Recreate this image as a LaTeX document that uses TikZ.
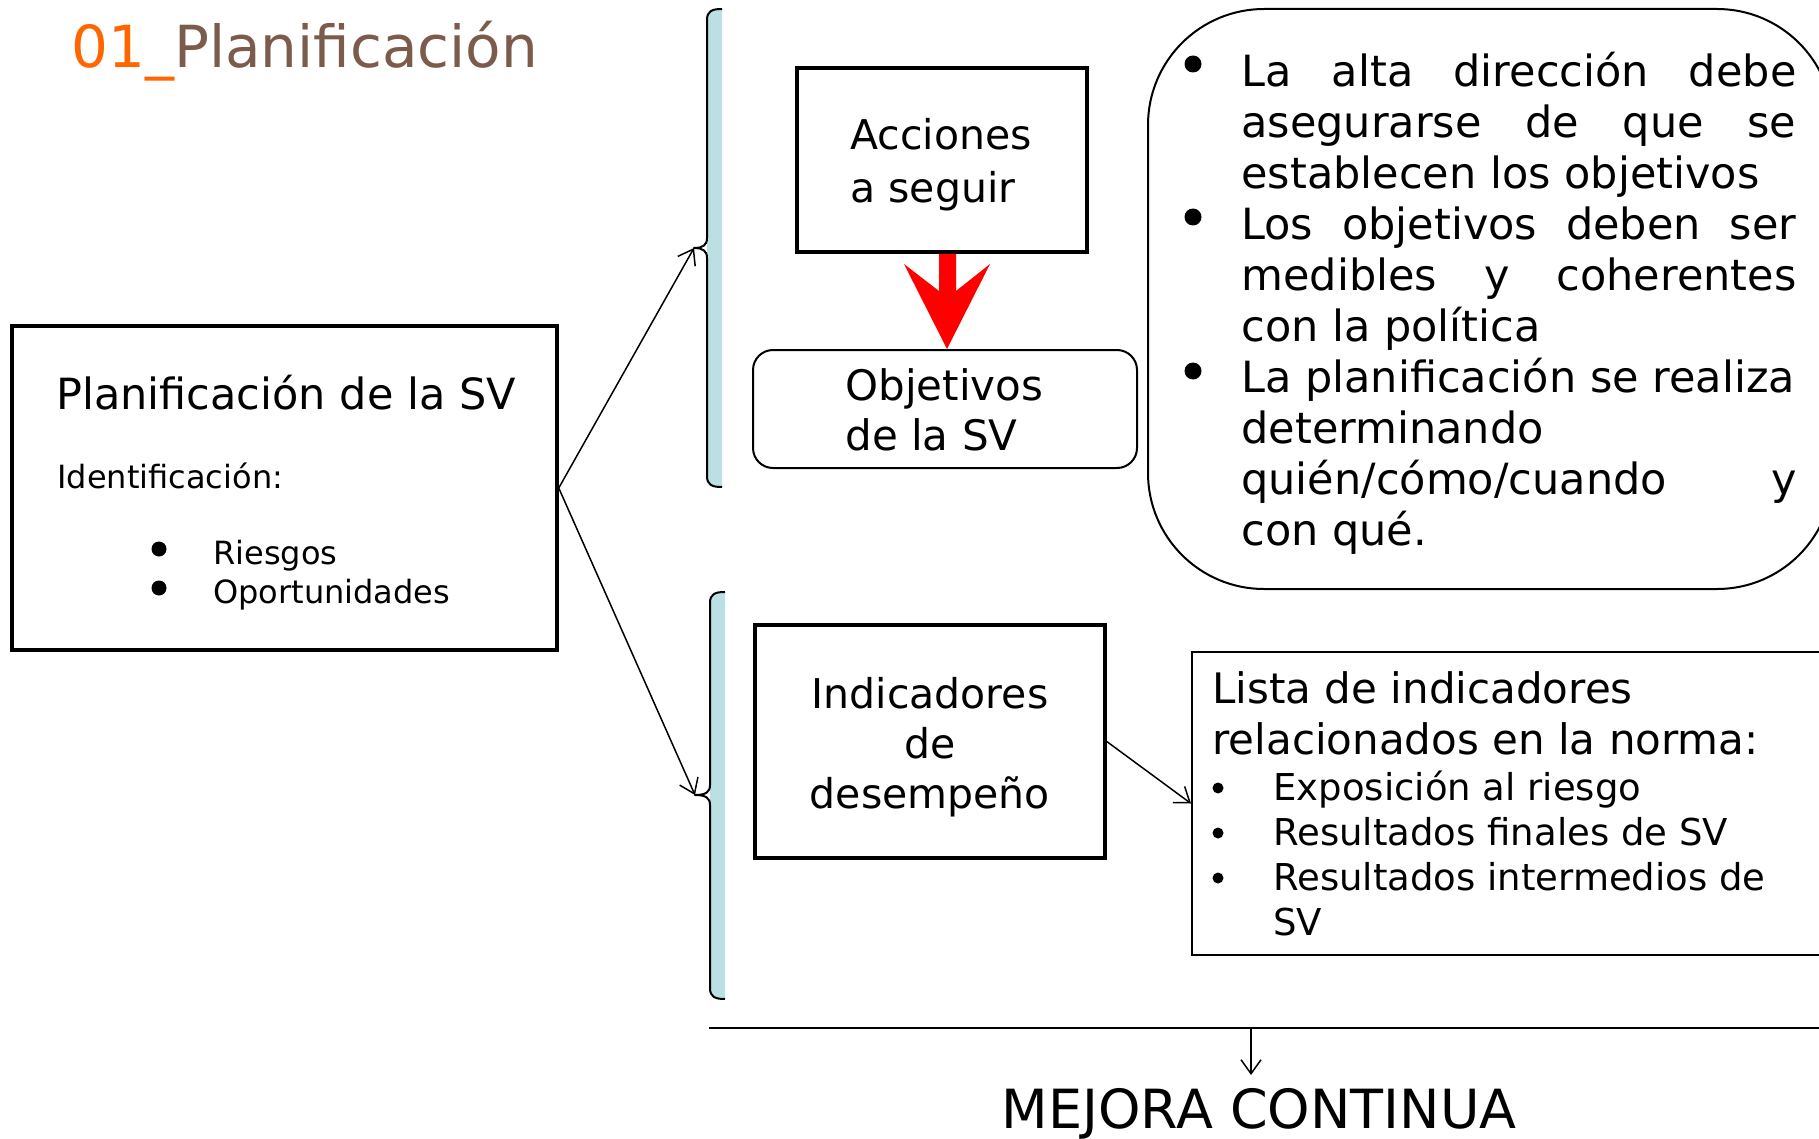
\documentclass[tikz,border=0pt]{standalone}
\usepackage{fontspec}
\setmainfont{DejaVu Sans}
\usetikzlibrary{arrows.meta,calc}
\definecolor{orng}{HTML}{FF6600}
\definecolor{brwn}{HTML}{7B5B4B}
\definecolor{brfill}{HTML}{BBE0E3}
\newcommand\fsz[2]{\fontsize{#1}{#2}\selectfont}
\begin{document}
\begin{tikzpicture}[x=0.5pt,y=-0.5pt,
  thickbox/.style={draw, line width=1.75pt, inner sep=0pt},
  thinbox/.style={draw, line width=1pt, inner sep=0pt},
  conn/.style={line width=0.75pt, -{Straight Barb[length=7pt,width=10pt,line width=0.75pt]}},
  txt/.style={inner sep=0pt, anchor=base west},
  dot/.style={circle, fill=black, inner sep=0pt, draw=none},
  brline/.style={line width=1pt, line join=round}]
\useasboundingbox (0,0) rectangle (1819,1139);
\clip (0,0) rectangle (1819,1139);

% title
\node[txt, font=\fsz{29}{34}] (title) at (71,68) {\textcolor{orng}{01\_}\textcolor{brwn}{Planificación}};

% left box
\node[thickbox, minimum width=272.5pt, minimum height=162pt] (lbox) at (284.5,488) {};
\node[txt, font=\fsz{21.5}{26}] (lt1) at (56,409) {Planificación de la SV};
\node[txt, font=\fsz{16}{19}] (lt2) at (57,488) {Identificación:};
\node[dot, minimum size=7.5pt] (lb1) at (159,549) {};
\node[dot, minimum size=7.5pt] (lb2) at (159,588) {};
\node[txt, font=\fsz{16}{19}] (lt3) at (213,564) {Riesgos};
\node[txt, font=\fsz{16}{19}] (lt4) at (213,603) {Oportunidades};

% brackets
\fill[brfill] (722,9) .. controls (712,9) and (707,11) .. (707,20) -- (707,476) .. controls (707,485) and (712,487) .. (722,487) -- cycle;
\draw[brline] (722,9) .. controls (712,9) and (707,11) .. (707,20) -- (707,238) .. controls (707,245) and (703,248) .. (694,248) .. controls (703,248) and (707,251) .. (707,258) -- (707,476) .. controls (707,485) and (712,487) .. (722,487);
\coordinate (bu) at (694,248);
\fill[brfill] (725,592) .. controls (715,592) and (710,594) .. (710,603) -- (710,988) .. controls (710,997) and (715,999) .. (725,999) -- cycle;
\draw[brline] (725,592) .. controls (715,592) and (710,594) .. (710,603) -- (710,785) .. controls (710,792) and (706,795) .. (695,795) .. controls (706,795) and (710,798) .. (710,805) -- (710,988) .. controls (710,997) and (715,999) .. (725,999);
\coordinate (bl) at (695,795);

\draw[conn] (lbox.east) -- (bu);
\draw[conn] (lbox.east) -- (bl);

% acciones
\node[thickbox, minimum width=145pt, minimum height=92pt] (acc) at (942,160) {};
\node[txt] (acct) at (850,150) {\vtop{\fsz{20.5}{26.5}\hbox{Acciones}\hbox{a seguir}}};

% objetivos
\node[thinbox, rounded corners=10pt, minimum width=192pt, minimum height=59pt] (obj) at (945,409) {};
\node[txt] (objt) at (845,400) {\vtop{\fsz{21}{25}\hbox{Objetivos}\hbox{de la SV}}};

% red arrow
\fill[red] (939,254) -- (939,291) -- (904,264) -- (947,349) -- (990,264) -- (956,291) -- (956,254) -- cycle;

% big rounded box
\node[thinbox, rounded corners=58pt, minimum width=342.5pt, minimum height=290pt] (big) at (1490.5,299) {};
\node[dot, minimum size=8.5pt] (bd1) at (1193,64) {};
\node[dot, minimum size=8.5pt] (bd2) at (1193,217) {};
\node[dot, minimum size=8.5pt] (bd3) at (1193,371) {};
\node[txt] (bigt) at (1241,87) {\vtop{\hsize=277.5pt \fsz{21.5}{25.5}%
\hbox to\hsize{La\hfill alta\hfill dirección\hfill debe}
\hbox to\hsize{asegurarse\hfill de\hfill que\hfill se}
\hbox{establecen los objetivos}
\hbox to\hsize{Los\hfill objetivos\hfill deben\hfill ser}
\hbox to\hsize{medibles\hfill y\hfill coherentes}
\hbox{con la política}
\hbox{La planificación se realiza}
\hbox{determinando}
\hbox to\hsize{quién/cómo/cuando\hfill y}
\hbox{con qué.}}};

% indicadores
\node[thickbox, minimum width=175pt, minimum height=116.5pt] (ind) at (930,741.5) {};
\node[inner sep=0pt, anchor=base] (indt) at (930,708) {\vtop{\hsize=170pt \fsz{20.5}{25}%
\hbox to\hsize{\hfil Indicadores\hfil}
\hbox to\hsize{\hfil de\hfil}
\hbox to\hsize{\hfil desempeño\hfil}}};

% lista
\node[thinbox, minimum width=321.5pt, minimum height=151.5pt] (lista) at (1513.5,803.5) {};
\node[txt] (listh) at (1212,703) {\vtop{\fsz{21}{25.5}\hbox{Lista de indicadores}\hbox{relacionados en la norma:}}};
\node[dot, minimum size=5.5pt] (ld1) at (1218,788) {};
\node[dot, minimum size=5.5pt] (ld2) at (1218,833) {};
\node[dot, minimum size=5.5pt] (ld3) at (1218,878) {};
\node[txt] (listi) at (1273,800) {\vtop{\fsz{18.5}{22.5}\hbox{Exposición al riesgo}\hbox{Resultados finales de SV}\hbox{Resultados intermedios de}\hbox{SV}}};

\draw[conn] (ind.east) -- (lista.west);

% bottom line and arrow
\coordinate (hl1) at (709,1028);
\coordinate (hl2) at (1830,1028);
\draw[line width=1.25pt] (hl1) -- (hl2);
\coordinate (hlm) at (1251,1028);
\coordinate (mejtop) at (1251,1075);
\draw[conn] (hlm) -- (mejtop);
\node[inner sep=0pt, anchor=base, font=\fsz{27}{32}] (mej) at (1259,1128) {MEJORA CONTINUA};
\end{tikzpicture}
\end{document}
